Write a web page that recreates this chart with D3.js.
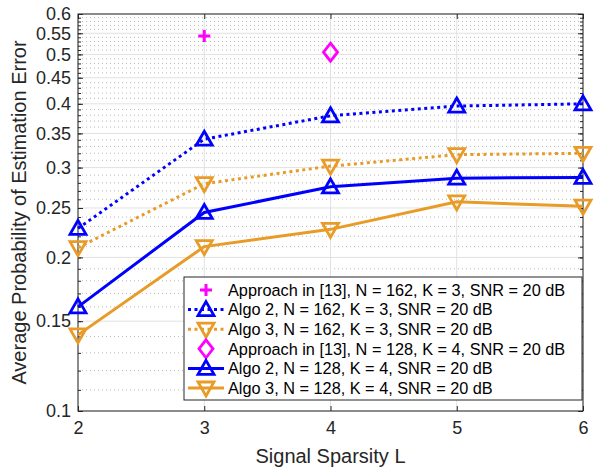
<!DOCTYPE html>
<html>
<head>
<meta charset="utf-8">
<script src="https://cdn.jsdelivr.net/npm/d3@7"></script>
<style>
  body { margin: 0; background: #fff; }
  text { font-family: "Liberation Sans", Arial, sans-serif; }
</style>
</head>
<body>
<div id="chart"></div>
<script>
// sparsity values on the x axis
var sparsity = [2, 3, 4, 5, 6];

// series
var algo2N162 = [0.228, 0.341, 0.379, 0.396, 0.400];
var algo3N162 = [0.209, 0.279, 0.302, 0.318, 0.320];
var algo2N128 = [0.160, 0.245, 0.275, 0.286, 0.287];
var algo3N128 = [0.141, 0.210, 0.227, 0.257, 0.252];

// single points of the reference approach
var approachN162 = [{x: 3, y: 0.543}];
var approachN128 = [{x: 4, y: 0.505}];

var yTicks = [0.1, 0.15, 0.2, 0.25, 0.3, 0.35, 0.4, 0.45, 0.5, 0.55, 0.6];
var yTickLabels = ["0.1", "0.15", "0.2", "0.25", "0.3", "0.35", "0.4", "0.45", "0.5", "0.55", "0.6"];
var yMinor = d3.range(10, 61).map(function(v) { return v / 100; });

var legendLabels = [
  "Approach in [13], N = 162, K = 3, SNR = 20 dB",
  "Algo 2, N = 162, K = 3, SNR = 20 dB",
  "Algo 3, N = 162, K = 3, SNR = 20 dB",
  "Approach in [13], N = 128, K = 4, SNR = 20 dB",
  "Algo 2, N = 128, K = 4, SNR = 20 dB",
  "Algo 3, N = 128, K = 4, SNR = 20 dB"
];

var blue = "#0000ff", orange = "#e89b26", magenta = "#ff00ff";

// set the dimensions and margins of the graph
var margin = {top: 14, right: 12, bottom: 62, left: 78},
  width = 595 - margin.left - margin.right,
  height = 473 - margin.top - margin.bottom;

var svg = d3.select("#chart")
  .append("svg")
    .attr("width", 595)
    .attr("height", 473)
  .append("g")
    .attr("transform", "translate(" + margin.left + "," + margin.top + ")");

var x = d3.scaleLinear().domain([2, 6]).range([0, width]);
var y = d3.scaleLog().domain([0.1, 0.6]).range([height, 0]);

// minor grid (dotted)
svg.append("g").selectAll("line")
  .data(yMinor.filter(function(v) { return yTicks.indexOf(v) < 0; }))
  .enter().append("line")
    .attr("x1", 0).attr("x2", width)
    .attr("y1", function(d) { return y(d); })
    .attr("y2", function(d) { return y(d); })
    .style("stroke", "#b8b8b8")
    .style("stroke-width", 1)
    .style("stroke-dasharray", "1,3");

// major grid
svg.append("g").selectAll("line")
  .data(yTicks)
  .enter().append("line")
    .attr("x1", 0).attr("x2", width)
    .attr("y1", function(d) { return y(d); })
    .attr("y2", function(d) { return y(d); })
    .style("stroke", "#e1e1e1")
    .style("stroke-width", 1);

svg.append("g").selectAll("line")
  .data(sparsity)
  .enter().append("line")
    .attr("x1", function(d) { return x(d); })
    .attr("x2", function(d) { return x(d); })
    .attr("y1", 0).attr("y2", height)
    .style("stroke", "#e1e1e1")
    .style("stroke-width", 1);

// axes, ticks pointing inward on all four sides
function styleAxis(g) {
  g.select(".domain").remove();
  g.selectAll(".tick line").style("stroke", "#262626");
  g.selectAll(".tick text")
    .style("fill", "#262626")
    .style("font-size", "18px")
    .style("font-family", "'Liberation Sans', Arial, sans-serif");
}

svg.append("g")
  .attr("transform", "translate(0," + height + ")")
  .call(d3.axisBottom(x).tickValues(sparsity).tickFormat(d3.format("d")).tickSize(-5).tickPadding(10))
  .call(styleAxis);

svg.append("g")
  .call(d3.axisTop(x).tickValues(sparsity).tickSize(-5).tickFormat(""))
  .call(styleAxis);

svg.append("g")
  .call(d3.axisLeft(y).tickValues(yTicks)
    .tickFormat(function(d, i) { return yTickLabels[i]; })
    .tickSize(-5).tickPadding(7))
  .call(styleAxis);

svg.append("g")
  .call(d3.axisLeft(y).tickValues(yMinor).tickSize(-3).tickFormat(""))
  .call(styleAxis);

svg.append("g")
  .attr("transform", "translate(" + width + ",0)")
  .call(d3.axisRight(y).tickValues(yTicks).tickSize(-5).tickFormat(""))
  .call(styleAxis);

svg.append("g")
  .attr("transform", "translate(" + width + ",0)")
  .call(d3.axisRight(y).tickValues(yMinor).tickSize(-3).tickFormat(""))
  .call(styleAxis);

// box
svg.append("rect")
  .attr("width", width).attr("height", height)
  .style("fill", "none")
  .style("stroke", "#262626")
  .style("stroke-width", 1);

// marker shapes
var triUp = "M0,-8L8,6L-8,6Z";
var triDown = "M0,8L8,-6L-8,-6Z";
var diamond = "M0,-9L7,0L0,9L-7,0Z";
var plus = "M-6,0L6,0M0,-6L0,6";

var series = [
  {values: algo2N162, color: blue, dash: "3,3.5", marker: triUp},
  {values: algo3N162, color: orange, dash: "3,3.5", marker: triDown},
  {values: algo2N128, color: blue, dash: null, marker: triUp},
  {values: algo3N128, color: orange, dash: null, marker: triDown}
];

var line = d3.line()
  .x(function(d, i) { return x(sparsity[i]); })
  .y(function(d) { return y(d); });

series.forEach(function(s) {
  svg.append("path")
    .datum(s.values)
    .attr("d", line)
    .style("fill", "none")
    .style("stroke", s.color)
    .style("stroke-width", 3)
    .style("stroke-dasharray", s.dash);

  svg.selectAll(null)
    .data(s.values)
    .enter().append("path")
      .attr("d", s.marker)
      .attr("transform", function(d, i) { return "translate(" + x(sparsity[i]) + "," + y(d) + ")"; })
      .style("fill", "none")
      .style("stroke", s.color)
      .style("stroke-width", 2.8);
});

svg.selectAll(null)
  .data(approachN162)
  .enter().append("path")
    .attr("d", plus)
    .attr("transform", function(d) { return "translate(" + x(d.x) + "," + y(d.y) + ")"; })
    .style("stroke", magenta)
    .style("stroke-width", 3);

svg.selectAll(null)
  .data(approachN128)
  .enter().append("path")
    .attr("d", diamond)
    .attr("transform", function(d) { return "translate(" + x(d.x) + "," + y(d.y) + ")"; })
    .style("fill", "none")
    .style("stroke", magenta)
    .style("stroke-width", 2.8);

// legend
var legendItems = [
  {color: magenta, dash: "none", marker: plus, line: false},
  {color: blue, dash: "3,3.5", marker: triUp, line: true},
  {color: orange, dash: "3,3.5", marker: triDown, line: true},
  {color: magenta, dash: "none", marker: diamond, line: false},
  {color: blue, dash: null, marker: triUp, line: true},
  {color: orange, dash: null, marker: triDown, line: true}
];

var legend = svg.append("g")
  .attr("transform", "translate(" + (184 - margin.left) + "," + (277 - margin.top) + ")");

legend.append("rect")
  .attr("width", 398).attr("height", 123)
  .style("fill", "#fff")
  .style("stroke", "#262626")
  .style("stroke-width", 1);

legendItems.forEach(function(d, i) {
  var row = legend.append("g")
    .attr("transform", "translate(0," + (13 + i * 19.6) + ")");
  if (d.line) {
    row.append("line")
      .attr("x1", 4).attr("x2", 40)
      .style("stroke", d.color)
      .style("stroke-width", 3)
      .style("stroke-dasharray", d.dash);
  }
  row.append("path")
    .attr("d", d.marker)
    .attr("transform", "translate(22,0)")
    .style("fill", "none")
    .style("stroke", d.color)
    .style("stroke-width", d.marker === plus ? 3 : 2.8);
  row.append("text")
    .attr("x", 44)
    .attr("dy", "0.36em")
    .style("font-size", "16.3px")
    .style("fill", "#000")
    .text(legendLabels[i]);
});

// text label for the x axis
svg.append("text")
  .attr("transform", "translate(" + (width / 2) + "," + (463 - margin.top) + ")")
  .style("text-anchor", "middle")
  .style("font-size", "20px")
  .style("fill", "#262626")
  .text("Signal Sparsity L");

// text label for the y axis
svg.append("text")
  .attr("transform", "translate(" + (26 - margin.left) + "," + (height / 2) + ") rotate(-90)")
  .style("text-anchor", "middle")
  .style("font-size", "20px")
  .style("fill", "#262626")
  .text("Average Probability of Estimation Error");
</script>
</body>
</html>
